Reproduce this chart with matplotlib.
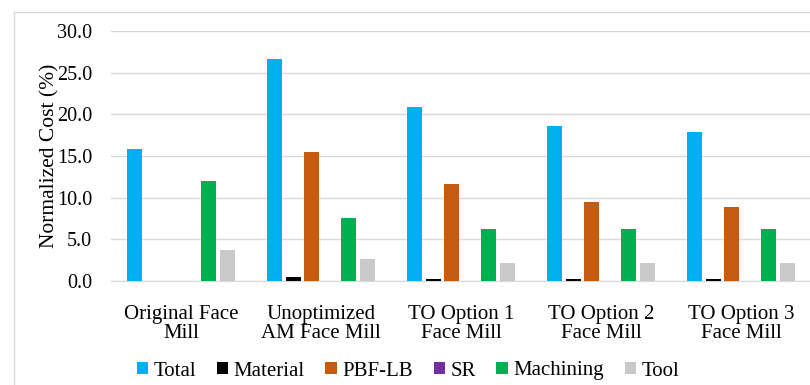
import numpy as np
import matplotlib.pyplot as plt
from matplotlib.patches import Rectangle

categories = ["Original Face\nMill", "Unoptimized\nAM Face Mill", "TO Option 1\nFace Mill",
              "TO Option 2\nFace Mill", "TO Option 3\nFace Mill"]
series = ["Total", "Material", "PBF-LB", "SR", "Machining", "Tool"]
total = [15.8, 26.6, 20.9, 18.6, 17.9]
material = [0.0, 0.5, 0.3, 0.25, 0.25]
pbf_lb = [0.0, 15.5, 11.7, 9.5, 8.9]
sr = [0.0, 0.0, 0.0, 0.0, 0.0]
machining = [12.0, 7.6, 6.3, 6.3, 6.3]
tool = [3.7, 2.7, 2.2, 2.2, 2.2]
colors = ["#00B0F0", "#000000", "#C55A11", "#7030A0", "#00B050", "#C9C9C9"]

plt.rcParams['font.family'] = ['Liberation Serif', 'DejaVu Serif']

fig = plt.figure(figsize=(8.1, 3.85), dpi=100)
# outer chart border
fig.patches.append(Rectangle((14 / 810, -0.1), 1.0, 1 - 12 / 385 + 0.1,
                             transform=fig.transFigure, fill=False,
                             edgecolor="#D9D9D9", linewidth=1.0))
ax = fig.add_axes([111 / 810, 1 - 281 / 385, 700 / 810, 250 / 385])

x = np.arange(len(categories))
step = 0.133
width = 0.107
values = [total, material, pbf_lb, sr, machining, tool]
for i, (name, vals, c) in enumerate(zip(series, values, colors)):
    ax.bar(x + (i - 2.5) * step, vals, width, color=c, label=name, zorder=3)

ax.set_xlim(-0.5, len(categories) - 0.5)
ax.set_ylim(0, 30)
ax.set_yticks(np.arange(0, 30.1, 5))
ax.set_yticklabels([f"{v:.1f}" for v in np.arange(0, 30.1, 5)], fontsize=14.5)
ax.set_xticks(x)
ax.set_xticklabels(categories, fontsize=15, linespacing=1.05)
ax.tick_params(axis="both", length=0)
ax.tick_params(axis="x", pad=17)
ax.tick_params(axis="y", pad=13.5)
ax.grid(axis="y", color="#D9D9D9", linewidth=1.0, zorder=0)
for s in ["top", "right", "left"]:
    ax.spines[s].set_visible(False)
ax.spines["bottom"].set_color("#D9D9D9")
ax.set_ylabel("Normalized Cost (%)", fontsize=15.5)
ax.yaxis.set_label_coords(-0.074, 0.5)

ax.legend(loc="center", bbox_to_anchor=(0.424, -0.36), ncol=6, frameon=False,
          fontsize=15, handlelength=0.55, handleheight=0.55, handletextpad=0.25,
          columnspacing=1.0)

fig.savefig("out.png", dpi=100)
